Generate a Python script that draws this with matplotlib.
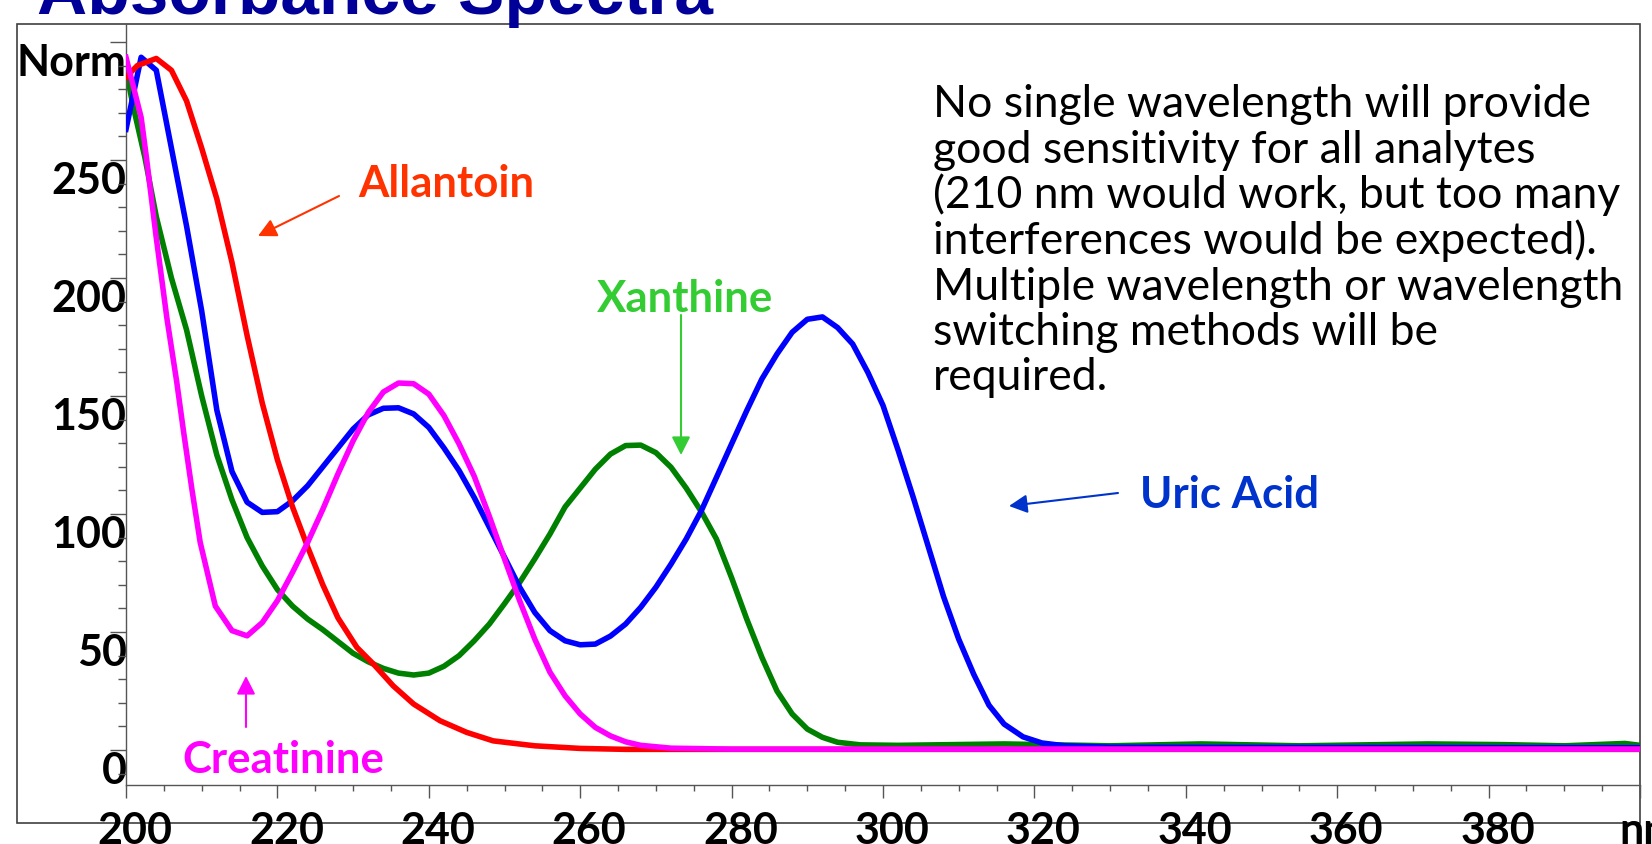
import matplotlib.pyplot as plt
from matplotlib.patches import Rectangle
from matplotlib.transforms import ScaledTranslation
from matplotlib.ticker import MultipleLocator

# --- data (wavelength in nm, normalised absorbance) ---
allantoin_nm = [200, 201.5, 204, 206, 208, 210, 212, 214, 216, 218, 220, 222, 224, 226,
                228, 230.5, 232.7, 235.3, 238, 241.5, 245, 248.5, 254, 260, 266, 320, 400]
allantoin = [285, 290, 293, 288, 275, 255, 233.5, 206.6, 175.6, 147, 123, 103, 86, 70,
             56, 43.5, 36.4, 27.2, 19.5, 12.4, 7.5, 3.9, 1.8, 0.7, 0.3, 0.3, 0.3]

uric_nm = [200, 202, 204, 206, 208, 210, 212, 214, 216, 218, 220, 222, 224, 226, 228,
           230, 232, 234, 236, 238, 240, 242, 244, 246, 248, 250, 252, 254, 256, 258, 260,
           262, 264, 266, 268, 270, 272, 274, 276, 278, 280, 282, 284, 286, 288, 290, 292,
           294, 296, 298, 300, 302, 304, 306, 308, 310, 312, 314, 316, 318.5, 321, 324, 330, 400]
uric = [263, 293.5, 288, 255, 222, 186, 144, 118, 105, 100.7, 101, 105.6, 112, 120, 128,
        136, 142, 144.8, 145, 142.4, 136.7, 128, 118.4, 107, 94.4, 81.7, 69, 58.3, 50.6, 46.3, 44.6,
        44.9, 48.3, 53.4, 60.5, 69, 78.8, 89.4, 101.4, 115.5, 129.7, 143.8, 157.2, 167.8, 177, 182.5, 183.5,
        179, 172, 160, 146, 127, 107, 86, 65, 47, 32, 19, 11, 5.6, 3, 1.8, 1.2, 1.0]

xanthine_nm = [200, 201, 202.5, 204, 206, 208, 210, 212, 214, 216, 218, 220, 222, 224, 226, 228,
               230, 232, 234, 236, 238, 240, 242, 244, 246, 248, 250, 252, 254, 256, 258, 260,
               262, 264, 266, 268, 270, 272, 274, 276, 278, 280, 282, 284, 286, 288, 290, 292,
               294, 297, 302, 316, 330, 342, 355, 372, 382, 390, 398, 400]
xanthine = [288, 272, 251, 226, 200, 178, 150, 125, 106, 90, 78, 68, 61, 55.5, 51, 46,
            41, 37.4, 34.6, 32.6, 31.8, 32.6, 35.5, 40, 46.3, 53.4, 62, 71, 81, 91.5, 103, 111,
            119, 125.4, 129, 129.2, 126, 119.8, 111, 101, 89.4, 73, 55.5, 39.3, 25, 15.3, 8.9, 5.4,
            3.3, 2.2, 2.0, 2.6, 1.8, 2.6, 1.8, 2.6, 2.3, 1.8, 2.8, 2.0]

creat_nm = [200, 202, 202.7, 204, 205.4, 206.7, 207.6, 208.7, 209.8, 211.8, 214, 216, 218, 220,
            222, 224, 226, 228, 230, 232, 234, 236, 238, 240, 242, 244, 246, 248, 250, 252,
            254, 256, 258, 260, 262, 264, 266, 268, 272, 280, 400]
creat = [293.5, 268, 251, 217, 183, 156, 135, 110.6, 88, 61, 50.6, 48.4, 54, 63.3,
         75.3, 88, 102, 117, 131, 143, 151.7, 155.5, 155.2, 150.8, 141.7, 129.7, 116, 99, 81, 63.3,
         47, 33, 23, 15.3, 9.6, 6, 3.5, 2, 0.8, 0.4, 0.4]

y_ticks = [0, 50, 100, 150, 200, 250, 300]
y_ticklabels = ['0', '50', '100', '150', '200', '250', 'Norm']
x_ticks = [200, 220, 240, 260, 280, 300, 320, 340, 360, 380, 400]
x_ticklabels = ['200', '220', '240', '260', '280', '300', '320', '340', '360', '380', 'nm']

note_lines = ['No single wavelength will provide',
              'good sensitivity for all analytes',
              '(210 nm would work, but too many',
              'interferences would be expected).',
              'Multiple wavelength or wavelength',
              'switching methods will be',
              'required.']

W, H = 1652, 845
plt.rcParams['font.family'] = ['Lato', 'DejaVu Sans']


def fp(x, y):
    # pixel position (from top-left) -> figure fraction
    return (x / W, 1 - y / H)


fig = plt.figure(figsize=(W / 100, H / 100), dpi=100)
ax = fig.add_axes([126 / W, 1 - 786 / H, (1640 - 126) / W, (786 - 25) / H])
ax.set_facecolor('none')

# outer slide frame
frame = Rectangle(fp(17, 824), (1640 - 17) / W, (824 - 25) / H, transform=fig.transFigure,
                  fill=False, edgecolor='#404040', lw=1.2, zorder=-1)
fig.add_artist(frame)

lw = 4.0
ax.plot(xanthine_nm, xanthine, color='#008000', lw=lw, zorder=2)
ax.plot(uric_nm, uric, color='#0000FF', lw=lw, zorder=3)
ax.plot(allantoin_nm, allantoin, color='#FF0000', lw=lw, zorder=4)
ax.plot(creat_nm, creat, color='#FF00FF', lw=lw, zorder=5)

ax.set_xlim(200, 400)
ax.set_ylim(-14.8, 307.6)

for s in ['top', 'right']:
    ax.spines[s].set_visible(False)
for s in ['left', 'bottom']:
    ax.spines[s].set_color('#555555')
    ax.spines[s].set_linewidth(1.0)

ax.set_yticks(y_ticks)
ax.set_yticklabels(y_ticklabels)
ax.set_xticks(x_ticks)
ax.set_xticklabels(x_ticklabels)
ax.yaxis.set_minor_locator(MultipleLocator(10))
ax.xaxis.set_minor_locator(MultipleLocator(5))

ax.tick_params(axis='y', which='major', length=11.5, width=1, color='#555555', pad=-12, labelsize=31)
ax.tick_params(axis='y', which='minor', length=5.8, width=1, color='#555555')
ax.tick_params(axis='x', which='major', length=9.4, width=1, color='#555555', pad=8.5, labelsize=31)
ax.tick_params(axis='x', which='minor', length=4.3, width=1, color='#555555')

for lbl in ax.get_yticklabels():
    lbl.set_fontweight('bold')
    lbl.set_va('top')
for lbl in ax.get_xticklabels():
    lbl.set_fontweight('bold')
    lbl.set_transform(lbl.get_transform() + ScaledTranslation(0.09, 0, fig.dpi_scale_trans))

# title (cut at the top as in the slide)
fig.text(*fp(37, 14), 'Absorbance Spectra', fontsize=50, fontweight='bold', color='#000099',
         family='Liberation Sans', va='baseline', ha='left')

# explanatory note
for i, line in enumerate(note_lines):
    fig.text(*fp(933, 117.5 + i * 45.5), line, fontsize=32, color='black', va='baseline', ha='left')

# compound labels with arrows
labels = [
    ('Allantoin', '#FF3300', (358, 197), (339, 197), (258, 237)),
    ('Xanthine', '#33CC33', (597, 312), (681, 316), (681, 456)),
    ('Uric Acid', '#0033CC', (1140, 508), (1118, 494), (1009, 507)),
    ('Creatinine', '#FF00FF', (182, 773), (246, 728), (246, 677)),
]
for name, col, txt, tail, tip in labels:
    fig.text(*fp(*txt), name, fontsize=31.5, fontweight='bold', color=col, va='baseline', ha='left')
    ax.annotate('', xy=fp(*tip), xytext=fp(*tail), xycoords='figure fraction',
                textcoords='figure fraction', annotation_clip=False,
                arrowprops=dict(arrowstyle='-|>,head_length=0.55,head_width=0.28', color=col,
                                lw=1.5, mutation_scale=20, shrinkA=0, shrinkB=0))

fig.savefig('out.png', dpi=100)
